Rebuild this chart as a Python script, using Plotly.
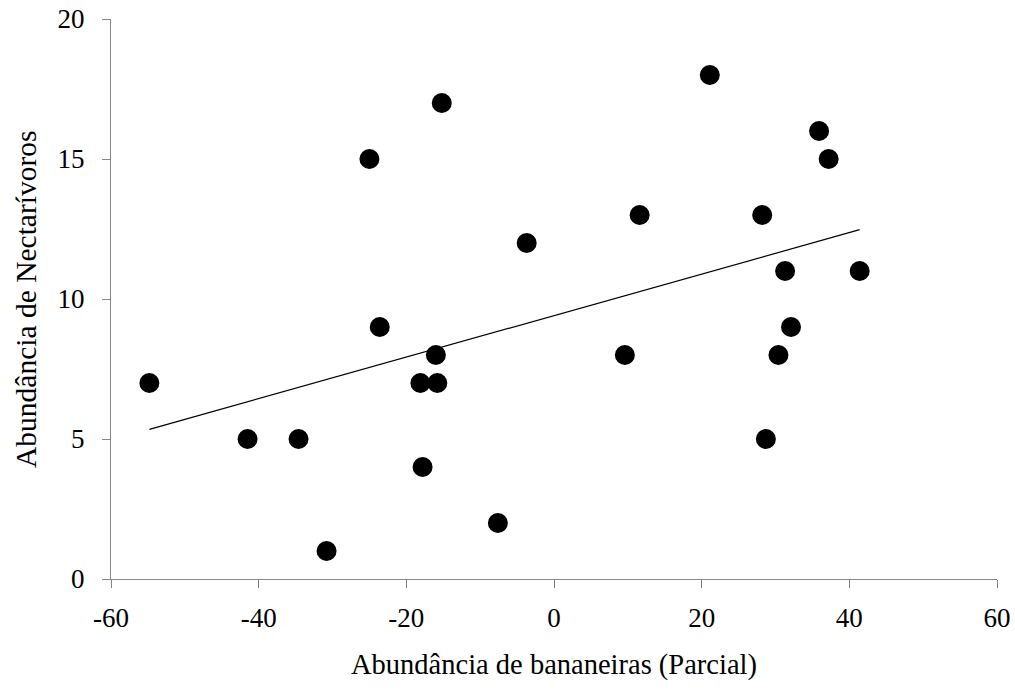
import numpy as np
import plotly.graph_objects as go

# Partial abundance of banana plants vs. nectarivore abundance
bananeiras = [-54.8, -41.5, -34.6, -30.8, -25.0, -23.6, -18.1, -17.8, -16.0, -15.8,
              -15.2, -7.6, -3.7, 9.6, 11.6, 21.1, 28.2, 28.7, 30.4, 31.3,
              32.1, 35.9, 37.2, 41.4]
nectarivoros = [7, 5, 5, 1, 15, 9, 7, 4, 8, 7,
                17, 2, 12, 8, 13, 18, 13, 5, 8, 11,
                9, 16, 15, 11]

x_ticks = [-60, -40, -20, 0, 20, 40, 60]
y_ticks = [0, 5, 10, 15, 20]

# Least-squares trend line over the observed range
slope, intercept = np.polyfit(bananeiras, nectarivoros, 1)
x_fit = np.array([min(bananeiras), max(bananeiras)])
y_fit = slope * x_fit + intercept

axis_grey = "#868686"
font_family = "Liberation Serif, Times New Roman, serif"
tick_size = 27
title_size = 28.5

fig = go.Figure()
fig.add_trace(go.Scatter(
    x=x_fit, y=y_fit, mode="lines",
    line=dict(color="black", width=1.2),
    hoverinfo="skip", showlegend=False,
))
fig.add_trace(go.Scatter(
    x=bananeiras, y=nectarivoros, mode="markers",
    marker=dict(color="black", size=20, line=dict(width=0)),
    showlegend=False,
))

fig.update_layout(
    width=1015, height=690,
    margin=dict(l=111, r=18, t=19, b=111),
    paper_bgcolor="white", plot_bgcolor="white",
    font=dict(family=font_family, size=tick_size, color="black"),
    xaxis=dict(
        range=[-60, 60], tickvals=x_ticks, ticktext=[str(v) for v in x_ticks],
        showgrid=False, zeroline=False, showline=True, linecolor=axis_grey, linewidth=1.3,
        ticks="outside", ticklen=8, tickcolor=axis_grey, tickwidth=1.3,
        tickfont=dict(size=tick_size), ticklabelstandoff=6, automargin=False,
        title=dict(text="Abundância de bananeiras (Parcial)",
                   font=dict(size=title_size), standoff=22),
    ),
    yaxis=dict(
        range=[0, 20], tickvals=y_ticks, ticktext=[str(v) for v in y_ticks],
        showgrid=False, zeroline=False, showline=True, linecolor=axis_grey, linewidth=1.3,
        ticks="outside", ticklen=8, tickcolor=axis_grey, tickwidth=1.3,
        tickfont=dict(size=tick_size), ticklabelstandoff=12, automargin=False,
    ),
    annotations=[dict(
        text="Abundância de Nectarívoros", textangle=-90,
        xref="paper", yref="paper", x=-0.096, y=0.5,
        xanchor="center", yanchor="middle", showarrow=False,
        font=dict(size=29.5),
    )],
)

fig.write_html("out.html")
